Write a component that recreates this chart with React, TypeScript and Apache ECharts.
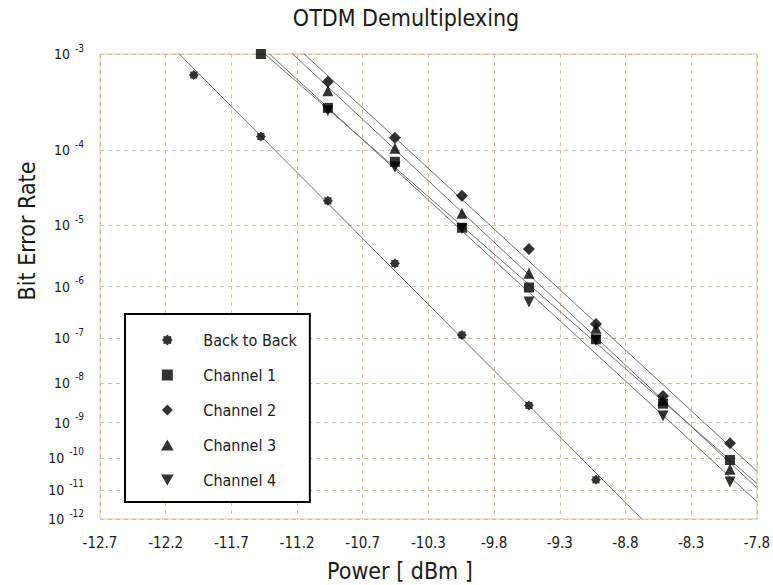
import React, { useEffect, useRef } from "react";
import * as echarts from "echarts";

// ---- data ----
const backToBackPower = [-12, -11.5, -11, -10.5, -10, -9.5, -9];
const backToBackBER = [6.4e-4, 1.46e-4, 2.25e-5, 2.5e-6, 1.17e-7, 2.8e-9, 2.1e-11];

const channelPower = [-11.5, -11, -10.5, -10, -9.5, -9, -8.5, -8];
const channel1BER = [1e-3, 3.0e-4, 7.3e-5, 9.2e-6, 9.6e-7, 9.5e-8, 3.1e-9, 8.6e-11];
const channel2BER = [null, 5.5e-4, 1.41e-4, 2.64e-5, 4.3e-6, 1.95e-7, 4.8e-9, 2.65e-10];
const channel3BER = [null, 4.5e-4, 1.06e-4, 1.5e-5, 1.7e-6, 1.6e-7, 3.8e-9, 4.5e-11];
const channel4BER = [null, 2.8e-4, 6.3e-5, 9.0e-6, 5.2e-7, 9.0e-8, 1.5e-9, 1.8e-11];

const seriesNames = ["Back to Back", "Channel 1", "Channel 2", "Channel 3", "Channel 4"];

// axis ticks
const xMin = -12.7;
const xStep = 0.49;
const xTickCount = 10;
const yTickExponents = [3, 4, 5, 6, 7, 8, 9, 10, 11, 12];

const FONT = "'DejaVu Sans Condensed', 'DejaVu Sans', sans-serif";

// BER axis scale: log10(-log10(BER))
const qv = (ber: number) => Math.log10(-Math.log10(ber));
const xv = (p: number) => (p - xMin) / xStep;

const starSymbol = (() => {
  const pts: string[] = [];
  for (let i = 0; i < 16; i++) {
    const a = (i * Math.PI) / 8 - Math.PI / 2;
    const r = i % 2 === 0 ? 10 : 7.6;
    pts.push(`${(10 + r * Math.cos(a)).toFixed(2)} ${(10 + r * Math.sin(a)).toFixed(2)}`);
  }
  return "path://M" + pts.join(" L") + " Z";
})();
const squareSymbol = "path://M0 0 L10 0 L10 10 L0 10 Z";
const diamondSymbol = "path://M5 0 L10 5 L5 10 L0 5 Z";
const upTriangle = "path://M5 0 L10 8.66 L0 8.66 Z";
const downTriangle = "path://M0 0 L10 0 L5 8.66 Z";

function fitLine(xs: number[], bers: (number | null)[]) {
  const px: number[] = [];
  const py: number[] = [];
  xs.forEach((x, i) => {
    const b = bers[i];
    if (b != null) {
      px.push(x);
      py.push(qv(b));
    }
  });
  const n = px.length;
  const mx = px.reduce((s, v) => s + v, 0) / n;
  const my = py.reduce((s, v) => s + v, 0) / n;
  let sxy = 0;
  let sxx = 0;
  for (let i = 0; i < n; i++) {
    sxy += (px[i] - mx) * (py[i] - my);
    sxx += (px[i] - mx) * (px[i] - mx);
  }
  const slope = sxy / sxx;
  const xEnd = xMin + xStep * xTickCount;
  return [
    [0, my + slope * (xMin - mx)],
    [xTickCount, my + slope * (xEnd - mx)],
  ];
}

function pts(xs: number[], bers: (number | null)[]) {
  const out: number[][] = [];
  xs.forEach((x, i) => {
    const b = bers[i];
    if (b != null) out.push([xv(x), qv(b)]);
  });
  return out;
}

export default function App() {
  const ref = useRef<HTMLDivElement>(null);
  useEffect(() => {
    if (!ref.current) return;
    const chart = echarts.init(ref.current, null, { renderer: "svg" });

    const sets: { name: string; xs: number[]; bers: (number | null)[]; symbol: string; size: number }[] = [
      { name: seriesNames[0], xs: backToBackPower, bers: backToBackBER, symbol: starSymbol, size: 10 },
      { name: seriesNames[1], xs: channelPower, bers: channel1BER, symbol: squareSymbol, size: 10 },
      { name: seriesNames[2], xs: channelPower, bers: channel2BER, symbol: diamondSymbol, size: 12 },
      { name: seriesNames[3], xs: channelPower, bers: channel3BER, symbol: upTriangle, size: 11 },
      { name: seriesNames[4], xs: channelPower, bers: channel4BER, symbol: downTriangle, size: 11 },
    ];

    const series: any[] = [];
    sets.forEach((s) => {
      series.push({
        name: "fit " + s.name,
        type: "line",
        data: fitLine(s.xs, s.bers),
        showSymbol: false,
        symbol: "none",
        lineStyle: { color: "#707070", width: 1 },
        clip: true,
        silent: true,
        z: 2,
      });
    });
    sets.forEach((s) => {
      series.push({
        name: s.name,
        type: "scatter",
        data: pts(s.xs, s.bers),
        symbol: s.symbol,
        symbolSize: s.size,
        itemStyle: { color: "#000" },
        z: 3,
      });
    });

    const yCustom = yTickExponents.map((n) => Math.log10(n));
    const gridColor = "#dcc197";

    chart.setOption({
      animation: false,
      backgroundColor: "#fff",
      grid: {
        left: 100,
        top: 54,
        width: 657,
        height: 465,
        show: true,
        borderColor: "#d9c8a6",
        borderWidth: 1,
        backgroundColor: "transparent",
      },
      xAxis: {
        type: "value",
        min: 0,
        max: xTickCount,
        interval: 1,
        axisLine: { show: false },
        axisTick: { show: false },
        splitLine: { show: true, lineStyle: { type: [4, 4], color: gridColor, width: 1 } },
        axisLabel: {
          margin: 16,
          fontFamily: FONT,
          fontSize: 15,
          color: "#1a1a1a",
          formatter: (v: number) => {
            const val = xMin + v * xStep;
            const r = -Math.round(-val * 10 + 1e-6) / 10;
            return r.toFixed(1);
          },
        },
      },
      yAxis: {
        type: "value",
        inverse: true,
        min: Math.log10(yTickExponents[0]),
        max: Math.log10(yTickExponents[yTickExponents.length - 1]),
        axisLine: { show: false },
        axisTick: { show: false, customValues: yCustom },
        splitLine: { show: true, lineStyle: { type: [4, 4], color: gridColor, width: 1 } },
        axisLabel: {
          customValues: yCustom,
          margin: 16,
          formatter: (v: number) => `{b|10}{s|-${Math.round(Math.pow(10, v))}}`,
          rich: {
            b: { fontFamily: FONT, fontSize: 14, color: "#1a1a1a" },
            s: { fontFamily: FONT, fontSize: 10, color: "#1a1a1a", padding: [0, 0, 12, 5] },
          },
        },
      },
      legend: {
        data: seriesNames,
        orient: "vertical",
        left: 125,
        top: 314,
        itemWidth: 62,
        itemHeight: 11,
        itemGap: 19,
        padding: [18, 13, 14, 36],
        borderColor: "#000",
        borderWidth: 2,
        backgroundColor: "#fff",
        textStyle: { fontFamily: FONT, fontSize: 16, color: "#1a1a1a", lineHeight: 16 },
        selectedMode: false,
      },
      graphic: [
        {
          type: "text",
          x: 406,
          y: 18,
          style: {
            text: "OTDM Demultiplexing",
            fontFamily: FONT,
            fontSize: 23,
            fill: "#1a1a1a",
            textAlign: "center",
            textVerticalAlign: "middle",
          },
        },
        {
          type: "text",
          x: 400,
          y: 571,
          style: {
            text: "Power [ dBm ]",
            fontFamily: FONT,
            fontSize: 23,
            fill: "#1a1a1a",
            textAlign: "center",
            textVerticalAlign: "middle",
          },
        },
        {
          type: "text",
          x: 27,
          y: 231,
          rotation: Math.PI / 2,
          style: {
            text: "Bit Error Rate",
            fontFamily: FONT,
            fontSize: 23,
            fill: "#1a1a1a",
            textAlign: "center",
            textVerticalAlign: "middle",
          },
        },
      ],
      series,
    });
    return () => chart.dispose();
  }, []);
  return <div ref={ref} style={{ position: "fixed", left: 0, top: 0, width: 773, height: 585 }} />;
}
